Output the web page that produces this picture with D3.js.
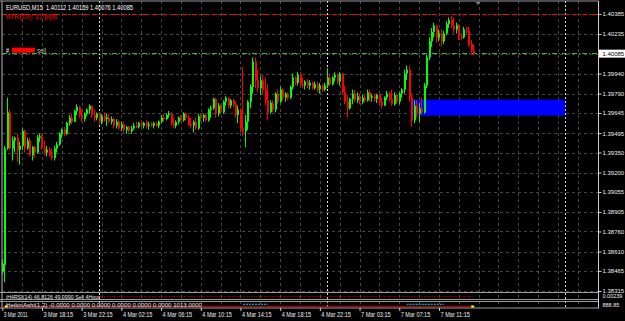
<!DOCTYPE html>
<html>
<head>
<meta charset="utf-8">
<script src="https://cdnjs.cloudflare.com/ajax/libs/d3/7.8.5/d3.min.js"></script>
<style>
html, body { margin: 0; padding: 0; background: #000; }
svg { display: block; font-family: "Liberation Sans", Arial, sans-serif; }
</style>
</head>
<body>
<svg width="625" height="321"></svg>
<script>
// EURUSD M15 candles (bar 0 = 3 Mar 14:15)
var opens = [1.3846,1.3851,1.3938,1.3965,1.3938,1.3944,1.3946,1.3937,1.3940,1.3951,
 1.3938,1.3944,1.3933,1.3939,1.3935,1.3946,1.3947,1.3938,1.3935,1.3937,
 1.3933,1.3931,1.3938,1.3941,1.3949,1.3952,1.3949,1.3957,1.3961,1.3958,
 1.3966,1.3969,1.3963,1.3960,1.3964,1.3967,1.3970,1.3963,1.3961,1.3964,
 1.3958,1.3962,1.3960,1.3961,1.3958,1.3960,1.3955,1.3958,1.3953,1.3956,
 1.3952,1.3954,1.3951,1.3953,1.3955,1.3954,1.3957,1.3955,1.3957,1.3955,
 1.3956,1.3955,1.3957,1.3955,1.3958,1.3961,1.3960,1.3963,1.3964,1.3957,
 1.3955,1.3958,1.3961,1.3959,1.3964,1.3961,1.3956,1.3955,1.3958,1.3953,
 1.3962,1.3961,1.3963,1.3959,1.3967,1.3968,1.3975,1.3964,1.3970,1.3965,
 1.3973,1.3976,1.3970,1.3974,1.3971,1.3963,1.3967,1.3953,1.3951,1.3958,
 1.3973,1.3984,1.4003,1.3989,1.3983,1.3989,1.3982,1.3974,1.3965,1.3972,
 1.3967,1.3979,1.3973,1.3982,1.3976,1.3979,1.3976,1.3984,1.3991,1.3987,
 1.3993,1.3986,1.3985,1.3988,1.3985,1.3987,1.3983,1.3986,1.3982,1.3985,
 1.3982,1.3985,1.3991,1.3986,1.3991,1.3993,1.3988,1.3994,1.3980,1.3973,
 1.3968,1.3975,1.3979,1.3974,1.3977,1.3973,1.3976,1.3974,1.3980,1.3976,
 1.3977,1.3975,1.3978,1.3973,1.3970,1.3976,1.3979,1.3975,1.3971,1.3978,
 1.3973,1.3979,1.3982,1.3994,1.3997,1.3976,1.3959,1.3970,1.3964,1.3968,
 1.3965,1.3985,1.4006,1.4018,1.4025,1.4030,1.4021,1.4024,1.4018,1.4024,
 1.4031,1.4034,1.4030,1.4027,1.4030,1.4022,1.4021,1.4027,1.4026,1.4016,
 1.40112];
var highs = [1.3855,1.3940,1.3976,1.3967,1.3947,1.3947,1.3949,1.3943,1.3953,1.3952,
 1.3946,1.3946,1.3940,1.3940,1.3948,1.3949,1.3949,1.3944,1.3940,1.3939,
 1.3938,1.3940,1.3943,1.3950,1.3953,1.3954,1.3958,1.3963,1.3964,1.3967,
 1.3971,1.3970,1.3967,1.3965,1.3968,1.3971,1.3970,1.3967,1.3965,1.3965,
 1.3964,1.3965,1.3964,1.3964,1.3962,1.3961,1.3960,1.3959,1.3958,1.3958,
 1.3955,1.3955,1.3955,1.3957,1.3958,1.3958,1.3959,1.3958,1.3959,1.3958,
 1.3958,1.3958,1.3958,1.3959,1.3963,1.3964,1.3964,1.3966,1.3965,1.3961,
 1.3959,1.3962,1.3963,1.3965,1.3965,1.3963,1.3961,1.3959,1.3961,1.3964,
 1.3964,1.3964,1.3964,1.3968,1.3970,1.3976,1.3976,1.3972,1.3971,1.3974,
 1.3977,1.3976,1.3975,1.3975,1.3973,1.3970,1.3968,1.3999,1.3963,1.3974,
 1.3986,1.4006,1.4006,1.3997,1.3992,1.3993,1.3991,1.3986,1.3974,1.3974,
 1.3980,1.3982,1.3984,1.3983,1.3980,1.3980,1.3985,1.3994,1.3992,1.3995,
 1.3995,1.3991,1.3989,1.3990,1.3989,1.3988,1.3988,1.3988,1.3987,1.3986,
 1.3987,1.3998,1.3994,1.3992,1.3995,1.3994,1.3995,1.3994,1.3985,1.3978,
 1.3976,1.3982,1.3982,1.3980,1.3979,1.3978,1.3978,1.3982,1.3982,1.3979,
 1.3979,1.3979,1.3979,1.3976,1.3977,1.3981,1.3980,1.3982,1.3980,1.3979,
 1.3980,1.3983,1.3997,1.4000,1.4000,1.3979,1.3974,1.3974,1.3972,1.3976,
 1.3987,1.4008,1.4021,1.4028,1.4032,1.4030,1.4027,1.4027,1.4026,1.4033,
 1.4036,1.4037,1.4036,1.4032,1.4031,1.4024,1.4029,1.4029,1.4029,1.4019,
 1.40159];
var lows = [1.3844,1.3838,1.3937,1.3937,1.3929,1.3935,1.3928,1.3926,1.3937,1.3935,
 1.3937,1.3932,1.3929,1.3931,1.3934,1.3943,1.3937,1.3933,1.3932,1.3932,
 1.3929,1.3929,1.3935,1.3940,1.3946,1.3947,1.3948,1.3955,1.3956,1.3958,
 1.3963,1.3961,1.3958,1.3958,1.3962,1.3964,1.3961,1.3958,1.3959,1.3956,
 1.3956,1.3958,1.3955,1.3957,1.3956,1.3953,1.3953,1.3952,1.3951,1.3950,
 1.3949,1.3950,1.3949,1.3952,1.3953,1.3953,1.3954,1.3953,1.3953,1.3952,
 1.3954,1.3953,1.3954,1.3953,1.3957,1.3958,1.3959,1.3961,1.3955,1.3953,
 1.3953,1.3956,1.3958,1.3958,1.3959,1.3955,1.3953,1.3950,1.3952,1.3952,
 1.3958,1.3958,1.3958,1.3958,1.3961,1.3967,1.3961,1.3962,1.3964,1.3964,
 1.3970,1.3968,1.3968,1.3969,1.3961,1.3957,1.3950,1.3947,1.3939,1.3952,
 1.3968,1.3979,1.3983,1.3980,1.3978,1.3979,1.3970,1.3959,1.3964,1.3965,
 1.3965,1.3971,1.3972,1.3974,1.3973,1.3974,1.3975,1.3982,1.3985,1.3985,
 1.3985,1.3983,1.3982,1.3983,1.3982,1.3982,1.3982,1.3980,1.3979,1.3980,
 1.3981,1.3983,1.3985,1.3985,1.3988,1.3986,1.3985,1.3978,1.3971,1.3961,
 1.3967,1.3971,1.3973,1.3972,1.3971,1.3971,1.3972,1.3973,1.3973,1.3973,
 1.3973,1.3972,1.3971,1.3968,1.3970,1.3974,1.3973,1.3970,1.3970,1.3971,
 1.3971,1.3976,1.3979,1.3989,1.3973,1.3954,1.3957,1.3961,1.3958,1.3963,
 1.3964,1.3983,1.4004,1.4014,1.4021,1.4017,1.4018,1.4014,1.4016,1.4023,
 1.4028,1.4028,1.4024,1.4024,1.4019,1.4019,1.4020,1.4024,1.4014,1.4009,
 1.40076];
var closes = [1.3852,1.3938,1.3965,1.3938,1.3944,1.3946,1.3937,1.3940,1.3951,1.3938,
 1.3944,1.3933,1.3939,1.3935,1.3946,1.3947,1.3938,1.3935,1.3937,1.3933,
 1.3931,1.3938,1.3941,1.3949,1.3952,1.3949,1.3957,1.3961,1.3958,1.3966,
 1.3969,1.3963,1.3960,1.3964,1.3967,1.3970,1.3963,1.3961,1.3964,1.3958,
 1.3962,1.3960,1.3961,1.3958,1.3960,1.3955,1.3958,1.3953,1.3956,1.3952,
 1.3954,1.3951,1.3953,1.3955,1.3954,1.3957,1.3955,1.3957,1.3955,1.3956,
 1.3955,1.3957,1.3955,1.3958,1.3961,1.3960,1.3963,1.3964,1.3957,1.3955,
 1.3958,1.3961,1.3959,1.3964,1.3961,1.3956,1.3955,1.3958,1.3953,1.3962,
 1.3961,1.3963,1.3959,1.3967,1.3968,1.3975,1.3964,1.3970,1.3965,1.3973,
 1.3976,1.3970,1.3974,1.3971,1.3963,1.3967,1.3953,1.3951,1.3958,1.3973,
 1.3984,1.4003,1.3989,1.3983,1.3989,1.3982,1.3974,1.3965,1.3972,1.3967,
 1.3979,1.3973,1.3982,1.3976,1.3979,1.3976,1.3984,1.3991,1.3987,1.3993,
 1.3986,1.3985,1.3988,1.3985,1.3987,1.3983,1.3986,1.3982,1.3985,1.3982,
 1.3985,1.3991,1.3986,1.3991,1.3993,1.3988,1.3994,1.3980,1.3973,1.3968,
 1.3975,1.3979,1.3974,1.3977,1.3973,1.3976,1.3974,1.3980,1.3976,1.3977,
 1.3975,1.3978,1.3973,1.3970,1.3976,1.3979,1.3975,1.3971,1.3978,1.3973,
 1.3979,1.3982,1.3994,1.3997,1.3976,1.3959,1.3970,1.3964,1.3968,1.3965,
 1.3985,1.4006,1.4018,1.4025,1.4030,1.4021,1.4024,1.4018,1.4024,1.4031,
 1.4034,1.4030,1.4027,1.4030,1.4022,1.4021,1.4027,1.4026,1.4016,1.40112,
 1.40085];

var priceTicks = [1.40385,1.40235,1.40085,1.39940,1.39790,1.39645,1.39495,1.39350,
 1.39200,1.39055,1.38905,1.38760,1.38610,1.38465,1.38315];
var timeBars = [0,16,32,48,64,80,96,112,128,144,160,176];
var timeLabels = ["3 Mar 2011","3 Mar 18:15","3 Mar 22:15","4 Mar 02:15","4 Mar 06:15",
 "4 Mar 10:15","4 Mar 14:15","4 Mar 18:15","4 Mar 22:15","7 Mar 03:15","7 Mar 07:15","7 Mar 11:15"];
var daySeparators = [39,131,227];   // 4 Mar, 7 Mar, 8 Mar 00:00
var zoneBars = [165.5,227];
var zonePrices = [1.39745,1.39625];
var atrLevel = 1.40385;
var sellLevel = 1.40085;

var svg = d3.select("svg");
var L = 2, R = 598.5, T = 1, mainBottom = 292.5;

svg.append("rect").attr("width",625).attr("height",321).attr("fill","#000");

var x = d3.scaleLinear().domain([0,240]).range([2.3, 2.3 + 240*2.481]);
var y = d3.scaleLinear().domain([1.38315,1.40385]).range([291,14]);

svg.append("clipPath").attr("id","main").append("rect")
 .attr("x",L).attr("y",T).attr("width",R-L).attr("height",mainBottom-T);

//grid
var grid = svg.append("g");
grid.selectAll(".hg").data(priceTicks).enter().append("line")
 .attr("x1",L).attr("x2",R)
 .attr("y1",function(d){ return Math.round(y(d))+0.5; })
 .attr("y2",function(d){ return Math.round(y(d))+0.5; })
 .attr("stroke","#454545").attr("stroke-dasharray","3,3");
grid.selectAll(".vg").data(d3.range(8,241,8)).enter().append("line")
 .attr("x1",function(d){ return Math.round(x(d))+0.5; })
 .attr("x2",function(d){ return Math.round(x(d))+0.5; })
 .attr("y1",T).attr("y2",308)
 .attr("stroke","#454545").attr("stroke-dasharray","3,3");

//blue zone
svg.append("rect")
 .attr("x",x(zoneBars[0])).attr("width",x(zoneBars[1])-x(zoneBars[0]))
 .attr("y",y(zonePrices[0])).attr("height",y(zonePrices[1])-y(zonePrices[0]))
 .attr("fill","#0000ff");

//day separators
svg.selectAll(".sep").data(daySeparators).enter().append("line")
 .attr("x1",function(d){ return Math.round(x(d))+0.5; })
 .attr("x2",function(d){ return Math.round(x(d))+0.5; })
 .attr("y1",T).attr("y2",308)
 .attr("stroke","#d8d8d8").attr("stroke-dasharray","2,2");

//level lines
svg.append("line").attr("x1",L).attr("x2",R)
 .attr("y1",Math.round(y(atrLevel))+0.5).attr("y2",Math.round(y(atrLevel))+0.5)
 .attr("stroke","#ff0000").attr("stroke-dasharray","5,2,1,2");
svg.append("line").attr("x1",L).attr("x2",R)
 .attr("y1",Math.round(y(sellLevel))-0.5).attr("y2",Math.round(y(sellLevel))-0.5)
 .attr("stroke","#35b835").attr("stroke-dasharray","5,2,1,2");

//candles
var bars = closes.map(function(c,i){ return {i:i,o:opens[i],h:highs[i],l:lows[i],c:c}; });
var cg = svg.append("g").attr("clip-path","url(#main)");
var candle = cg.selectAll(".c").data(bars).enter().append("g");
function col(d){ return d.c >= d.o ? "#00ff00" : "#ff0000"; }
candle.append("rect")
 .attr("x",function(d){ return Math.floor(x(d.i)); })
 .attr("width",1)
 .attr("y",function(d){ return y(d.h); })
 .attr("height",function(d){ return Math.max(1,y(d.l)-y(d.h)); })
 .attr("fill",col);
candle.append("rect")
 .attr("x",function(d){ return Math.floor(x(d.i)); })
 .attr("width",2)
 .attr("y",function(d){ return y(Math.max(d.o,d.c)); })
 .attr("height",function(d){ return Math.max(1,Math.abs(y(d.o)-y(d.c))); })
 .attr("fill",col);

//frame
var frame = svg.append("g").attr("stroke","#9a9a9a").attr("stroke-width",1.2);
frame.append("line").attr("x1",0).attr("x2",R).attr("y1",T).attr("y2",T);
frame.append("line").attr("x1",L).attr("x2",L).attr("y1",T).attr("y2",308);
[mainBottom,299.5,301.5,308].forEach(function(v){
 frame.append("line").attr("x1",0).attr("x2",R).attr("y1",v).attr("y2",v);
});
svg.append("line").attr("x1",R).attr("x2",R).attr("y1",T).attr("y2",308.5)
 .attr("stroke","#d0d0d0");

//shift marker
svg.append("path")
 .attr("d","M" + (x(191.7)-2.5) + ",2 L" + (x(191.7)+2.5) + ",2 L" + x(191.7) + ",5 Z")
 .attr("fill","#7a7a7a");

//indicator panels
var p1y = d3.scaleLinear().domain([0,100]).range([299,294.5]);
var p2y = d3.scaleLinear().domain([-1,1]).range([307,302]);
svg.append("line").attr("x1",x(38)).attr("x2",x(190))
 .attr("y1",p1y(50)).attr("y2",p1y(50))
 .attr("stroke","#e00000").attr("stroke-dasharray","1,1.5");
svg.append("line").attr("x1",x(0)).attr("x2",x(190))
 .attr("y1",p2y(-0.7)).attr("y2",p2y(-0.7)).attr("stroke","#e00000");
[[97,107],[163,178]].forEach(function(r){
 svg.append("line").attr("x1",x(r[0])).attr("x2",x(r[1]))
  .attr("y1",p2y(0.1)).attr("y2",p2y(0.1))
  .attr("stroke","#00d8ff").attr("stroke-dasharray","2,1");
});
svg.selectAll(".yd").data([1,189]).enter().append("rect")
 .attr("x",function(d){ return x(d); }).attr("y",p2y(-0.4)).attr("width",3).attr("height",2)
 .attr("fill","#ffff00");

//texts
function txt(s, tx, ty, len, fill, size){
 var t = svg.append("text").attr("x",tx).attr("y",ty).text(s)
  .attr("fill",fill).attr("font-size",size || 7);
 if (len) t.attr("textLength",len).attr("lengthAdjust","spacingAndGlyphs");
 return t;
}
var f5 = d3.format(".5f"), last = closes.length - 1;
txt("EURUSD,M15\u00a0\u00a0" + [opens[last],highs[last],lows[last],closes[last]].map(f5).join(" "),
 6, 9.5, 127, "#ffffff");
txt("ATR(10): 11 pips", 6, 19, 51, "#ff0000");
txt("#", 6, 52.5, 3, "#ffffff");
svg.append("rect").attr("x",12).attr("y",y(sellLevel)-6.5).attr("width",23).attr("height",5)
 .attr("fill","#ff0000");
txt("sell", 37, 52.5, 9, "#bdbdbd");
txt("iH4RSI(14) 46.8126 49.0990 Sell 4Hour", 6, 298.8, 94, "#e8e8e8", 5.5);
txt("HeikinAshi(1,2) -0.0000 0.0000 0.0000 0.0000 0.0000 0.0000 1013.0000", 6, 306.8, 196, "#e8e8e8", 5.5);

//price axis
var ya = svg.append("g").attr("transform","translate(" + R + ",0)")
 .call(d3.axisRight(y).tickValues(priceTicks).tickSize(3).tickFormat(f5));
ya.select(".domain").remove();
ya.selectAll("line").attr("stroke","#d0d0d0");
ya.selectAll("text").attr("x",4).attr("fill","#eeeeee")
 .attr("font-family","Liberation Sans, Arial, sans-serif").attr("font-size",6);

svg.append("rect").attr("x",R+0.5).attr("y",y(sellLevel)-4.5).attr("width",26).attr("height",8)
 .attr("fill","#ffffff");
txt(f5(sellLevel), R+4, y(sellLevel)+2.1, null, "#000000", 6);
txt("0.00239", R+4, 298.3, null, "#eeeeee", 5.5);
txt("888.85", R+4, 307, null, "#eeeeee", 5.5);

//time axis
var xa = svg.append("g").attr("transform","translate(0,308)")
 .call(d3.axisBottom(x).tickValues(timeBars).tickSize(3)
  .tickFormat(function(d,i){ return timeLabels[i]; }));
xa.select(".domain").remove();
xa.selectAll("line").attr("stroke","#d0d0d0");
xa.selectAll("text").attr("text-anchor","start").attr("x",1).attr("y",8.8).attr("dy",0)
 .attr("fill","#eeeeee").attr("font-family","Liberation Sans, Arial, sans-serif")
 .attr("font-size",7)
 .attr("textLength",function(d,i){ return i === 0 ? 24 : 29.5; })
 .attr("lengthAdjust","spacingAndGlyphs");
</script>
</body>
</html>
